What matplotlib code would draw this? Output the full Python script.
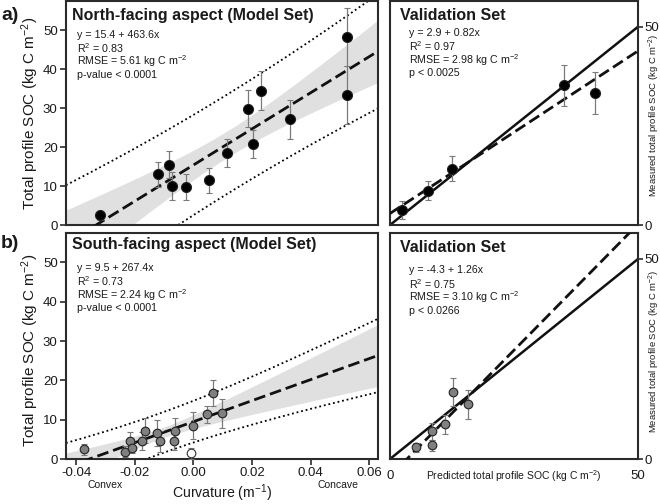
import numpy as np
import matplotlib
matplotlib.use("Agg")
import matplotlib.pyplot as plt
import matplotlib.transforms as mtransforms

plt.rcParams['font.family'] = ['Liberation Sans', 'DejaVu Sans']
plt.rcParams['mathtext.fontset'] = 'custom'
plt.rcParams['mathtext.rm'] = 'Liberation Sans'
plt.rcParams['mathtext.it'] = 'Liberation Sans:italic'
plt.rcParams['mathtext.bf'] = 'Liberation Sans:bold'
plt.rcParams['axes.unicode_minus'] = False

# ---------------- data ----------------
north_curv = [-0.0318, -0.0121, -0.0082, -0.0073, -0.0025, 0.0053, 0.0116,
              0.0186, 0.0205, 0.0232, 0.0328, 0.0525, 0.0525]
north_soc = [2.5, 13.0, 15.5, 10.0, 9.7, 11.5, 18.5, 29.9, 20.9, 34.5, 27.2, 48.2, 33.4]
north_err = [1.1, 3.3, 3.4, 3.5, 3.3, 3.2, 3.5, 4.7, 3.6, 5.1, 5.0, 7.5, 7.4]
north_coef = [15.4, 463.6]  # intercept, slope

south_curv = [-0.0372, -0.0233, -0.0216, -0.0211, -0.0177, -0.0166, -0.0125,
              -0.0113, -0.0068, -0.0062, -0.0003, 0.0047, 0.0067, 0.0097]
south_soc = [2.5, 1.9, 4.5, 2.9, 4.5, 7.2, 6.6, 4.5, 4.5, 7.2, 8.5, 11.4, 16.8, 11.6]
south_err = [1.4, 1.5, 2.3, 1.5, 2.3, 3.2, 3.2, 2.6, 2.3, 3.2, 3.4, 2.2, 3.2, 3.6]
south_out_curv = [-0.0010]
south_out_soc = [1.5]
south_out_err = [1.4]
south_coef = [9.5, 267.4]

north_val_pred = [2.4, 7.6, 12.6, 35.0, 41.4]
north_val_meas = [3.75, 8.7, 14.2, 35.2, 33.3]
north_val_err = [2.2, 2.5, 3.1, 5.2, 5.2]
north_val_coef = [2.9, 0.82]

south_val_pred = [5.2, 8.4, 8.5, 11.1, 12.7, 15.8]
south_val_meas = [2.9, 3.4, 6.9, 8.7, 16.7, 13.7]
south_val_err = [1.2, 1.3, 2.1, 2.4, 3.5, 3.6]
south_val_coef = [-4.3, 1.26]

north_stats = ["y = 15.4 + 463.6x", "R$^2$ = 0.83", "RMSE = 5.61 kg C m$^{-2}$", "p-value < 0.0001"]
south_stats = ["y = 9.5 + 267.4x", "R$^2$ = 0.73", "RMSE = 2.24 kg C m$^{-2}$", "p-value < 0.0001"]
nval_stats = ["y = 2.9 + 0.82x", "R$^2$ = 0.97", "RMSE = 2.98 kg C m$^{-2}$", "p < 0.0025"]
sval_stats = ["y = -4.3 + 1.26x", "R$^2$ = 0.75", "RMSE = 3.10 kg C m$^{-2}$", "p < 0.0266"]

curv_ticks = [-0.04, -0.02, 0.00, 0.02, 0.04, 0.06]
soc_ticks = [0, 10, 20, 30, 40, 50]

# ---------------- style ----------------
FRAME = '#2b2b2b'
TXT = '#1a1a1a'
ERRC = '#7a7a7a'
BAND = '#e0e0e0'
DASH = (0, (4.2, 1.8))
DOT = (0, (1, 1.6))
STAT_FS = 7.7

fig = plt.figure(figsize=(6.6, 5.04), dpi=100)
W, H = 660, 504
ax1 = fig.add_axes([66 / W, 1 - 225 / H, 312 / W, 224 / H])
ax2 = fig.add_axes([390 / W, 1 - 225 / H, 248 / W, 224 / H])
ax3 = fig.add_axes([66 / W, 1 - 459 / H, 312 / W, 226 / H])
ax4 = fig.add_axes([390 / W, 1 - 459 / H, 248 / W, 226 / H])

for ax in (ax1, ax2, ax3, ax4):
    for s in ax.spines.values():
        s.set_linewidth(1.5)
        s.set_color(FRAME)


def model_panel(ax, x, y, e, coef, tval, marker_fc, ms, ylab_y):
    x = np.asarray(x); y = np.asarray(y)
    b0, b1 = coef
    n = len(x)
    resid = y - (b0 + b1 * x)
    s = np.sqrt(np.sum(resid ** 2) / (n - 2))
    xm = x.mean()
    sxx = np.sum((x - xm) ** 2)
    xx = np.linspace(-0.0435, 0.063, 300)
    yy = b0 + b1 * xx
    se_m = s * np.sqrt(1 / n + (xx - xm) ** 2 / sxx)
    se_p = s * np.sqrt(1 + 1 / n + (xx - xm) ** 2 / sxx)
    ax.fill_between(xx, yy - tval * se_m, yy + tval * se_m, color=BAND, lw=0, zorder=1)
    ax.plot(xx, yy + tval * se_p, color='k', lw=1.3, ls=DOT, zorder=2)
    ax.plot(xx, yy - tval * se_p, color='k', lw=1.3, ls=DOT, zorder=2)
    ax.plot(xx, yy, color='#111111', lw=2.0, ls=DASH, zorder=3)
    ax.errorbar(x, y, yerr=e, fmt='o', ms=ms, mfc=marker_fc, mec='#222222', mew=0.8,
                ecolor=ERRC, elinewidth=0.9, capsize=2.4, capthick=0.9, zorder=4)
    ax.set_xlim(-0.0435, 0.063)
    ax.set_ylim(0, 57.5)
    ax.set_yticks(soc_ticks)
    ax.tick_params(axis='y', direction='out', length=4, width=1.2, color=FRAME,
                   labelsize=9.5, labelcolor=TXT, pad=2)
    ax.set_ylabel("Total profile SOC (kg C m$^{-2}$)", fontsize=11, color=TXT)
    ax.yaxis.set_label_coords(-0.080, ylab_y)


def add_text(ax, title, lines, tx, ty, sx, sys_):
    ax.text(tx, ty, title, transform=ax.transAxes, fontsize=11.5, fontweight='bold',
            color=TXT, ha='left', va='center')
    for ln, yy in zip(lines, sys_):
        ax.text(sx, yy, ln, transform=ax.transAxes, fontsize=STAT_FS, color=TXT,
                ha='left', va='center')


model_panel(ax1, north_curv, north_soc, north_err, north_coef, 2.201, 'black', 7.2, 0.50)
ax1.set_xticks(curv_ticks)
ax1.tick_params(axis='x', length=0, labelbottom=False)
add_text(ax1, "North-facing aspect (Model Set)", north_stats, 0.02, 0.935, 0.035,
         [0.850, 0.790, 0.730, 0.670])

model_panel(ax3, south_curv, south_soc, south_err, south_coef, 2.179, '#808080', 6.2, 0.48)
ax3.errorbar(south_out_curv, south_out_soc, yerr=south_out_err, fmt='o', ms=6.2, mfc='white',
             mec='#333333', mew=0.8, ecolor=ERRC, elinewidth=0.9, capsize=2.4, capthick=0.9,
             zorder=4)
ax3.set_xticks(curv_ticks)
ax3.set_xticklabels([f"{t:.2f}" for t in curv_ticks])
ax3.tick_params(axis='x', direction='out', length=4, width=1.2, color=FRAME,
                labelsize=9.5, labelcolor=TXT, pad=2)
ax3.text(0.5, -0.152, "Curvature (m$^{-1}$)", transform=ax3.transAxes, fontsize=10.2,
         color=TXT, ha='center', va='center')
trans = mtransforms.blended_transform_factory(ax3.transData, ax3.transAxes)
ax3.text(-0.0303, -0.114, "Convex", transform=trans, fontsize=7.5, color=TXT, ha='center', va='center')
ax3.text(0.0494, -0.114, "Concave", transform=trans, fontsize=7.5, color=TXT, ha='center', va='center')
add_text(ax3, "South-facing aspect (Model Set)", south_stats, 0.02, 0.95, 0.035,
         [0.846, 0.786, 0.726, 0.666])


def val_panel(ax, x, y, e, coef, marker_fc, ms, ylab_y):
    xx = np.array([0, 50])
    ax.plot(xx, xx, color='#111111', lw=1.8, zorder=2)
    b0, b1 = coef
    ax.plot(xx, b0 + b1 * xx, color='#111111', lw=2.0, ls=DASH, zorder=3)
    ax.errorbar(x, y, yerr=e, fmt='o', ms=ms, mfc=marker_fc, mec='#222222', mew=0.8,
                ecolor=ERRC, elinewidth=0.9, capsize=2.4, capthick=0.9, zorder=4)
    ax.set_xlim(0, 50)
    ax.set_ylim(0, 56.5)
    ax.set_yticks([0, 50])
    ax.yaxis.tick_right()
    ax.tick_params(axis='y', direction='out', length=3.5, width=1.2, color=FRAME,
                   labelsize=9.5, labelcolor=TXT, pad=1)
    ax.text(1.064, ylab_y, "Measured total profile SOC (kg C m$^{-2}$)", transform=ax.transAxes,
            rotation=90, fontsize=6.8, color=TXT, ha='center', va='center')


val_panel(ax2, north_val_pred, north_val_meas, north_val_err, north_val_coef, 'black', 7.2, 0.49)
ax2.set_xticks([])
add_text(ax2, "Validation Set", nval_stats, 0.04, 0.935, 0.077, [0.857, 0.797, 0.737, 0.677])

val_panel(ax4, south_val_pred, south_val_meas, south_val_err, south_val_coef, '#808080', 6.2, 0.475)
ax4.set_xticks([0, 50])
ax4.tick_params(axis='x', length=0, labelsize=9.5, labelcolor=TXT, pad=8)
ax4.text(0.5, -0.075, "Predicted total profile SOC (kg C m$^{-2}$)", transform=ax4.transAxes,
         fontsize=7.5, color=TXT, ha='center', va='center')
add_text(ax4, "Validation Set", sval_stats, 0.04, 0.935, 0.077, [0.836, 0.776, 0.716, 0.656])

fig.text(1 / W, 1 - 15 / H, "a)", fontsize=14, fontweight='bold', color=TXT, ha='left', va='center')
fig.text(1 / W, 1 - 244 / H, "b)", fontsize=14, fontweight='bold', color=TXT, ha='left', va='center')

fig.savefig("out.png", dpi=100)
